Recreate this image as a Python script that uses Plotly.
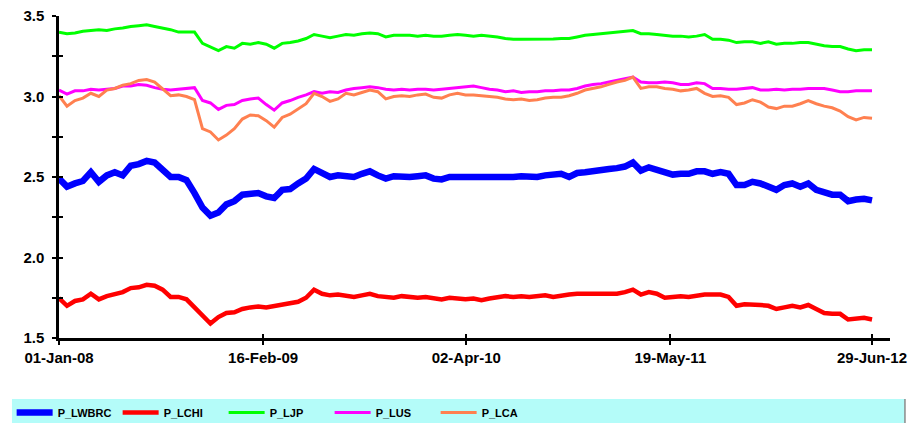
import pandas as pd
import plotly.graph_objects as go

# ---------------- data ----------------
start_date = "2008-01-01"
end_date = "2012-06-29"
n_points = 103

p_lwbrc = [2.49, 2.44, 2.46, 2.475, 2.53, 2.47, 2.51, 2.53, 2.51, 2.57,
           2.58, 2.60, 2.59, 2.55, 2.50, 2.50, 2.48, 2.40, 2.31, 2.26,
           2.28, 2.33, 2.35, 2.39, 2.395, 2.40, 2.38, 2.37, 2.42, 2.425,
           2.46, 2.49, 2.55, 2.52, 2.50, 2.51, 2.505, 2.50, 2.52, 2.535,
           2.51, 2.49, 2.505, 2.50, 2.50, 2.505, 2.51, 2.49, 2.485, 2.50,
           2.50, 2.50, 2.50, 2.495, 2.49, 2.50, 2.495, 2.50, 2.505, 2.50,
           2.50, 2.51, 2.515, 2.52, 2.50, 2.525, 2.53, 2.54, 2.545, 2.55,
           2.555, 2.565, 2.59, 2.54, 2.56, 2.545, 2.52, 2.515, 2.52, 2.52,
           2.535, 2.535, 2.52, 2.53, 2.52, 2.45, 2.45, 2.47, 2.46, 2.44,
           2.42, 2.45, 2.46, 2.44, 2.46, 2.42, 2.40, 2.39, 2.39, 2.35,
           2.36, 2.365, 2.355]

p_lchi = [1.747, 1.70, 1.73, 1.74, 1.775, 1.74, 1.76, 1.775, 1.785, 1.81,
          1.815, 1.83, 1.825, 1.80, 1.755, 1.755, 1.74, 1.69, 1.635, 1.59,
          1.63, 1.655, 1.66, 1.68, 1.69, 1.695, 1.69, 1.70, 1.71, 1.715,
          1.725, 1.75, 1.80, 1.775, 1.765, 1.77, 1.765, 1.755, 1.765, 1.775,
          1.76, 1.755, 1.75, 1.76, 1.755, 1.75, 1.755, 1.745, 1.74, 1.75,
          1.745, 1.74, 1.745, 1.735, 1.745, 1.755, 1.76, 1.755, 1.76, 1.755,
          1.76, 1.765, 1.755, 1.765, 1.77, 1.775, 1.775, 1.78, 1.775, 1.775,
          1.775, 1.785, 1.80, 1.77, 1.785, 1.775, 1.75, 1.755, 1.76, 1.755,
          1.765, 1.77, 1.77, 1.77, 1.755, 1.70, 1.71, 1.71, 1.705, 1.70,
          1.68, 1.69, 1.70, 1.69, 1.705, 1.68, 1.655, 1.65, 1.65, 1.615,
          1.62, 1.625, 1.615]

p_ljp = [3.40, 3.39, 3.395, 3.405, 3.41, 3.415, 3.41, 3.42, 3.425, 3.435,
         3.44, 3.445, 3.435, 3.425, 3.415, 3.40, 3.40, 3.40, 3.33, 3.31,
         3.285, 3.31, 3.30, 3.33, 3.325, 3.335, 3.325, 3.30, 3.33, 3.335,
         3.345, 3.36, 3.385, 3.375, 3.365, 3.375, 3.385, 3.38, 3.39, 3.395,
         3.39, 3.37, 3.38, 3.38, 3.38, 3.375, 3.38, 3.375, 3.375, 3.38,
         3.385, 3.38, 3.375, 3.38, 3.375, 3.37, 3.36, 3.355, 3.355, 3.355,
         3.355, 3.357, 3.357, 3.36, 3.36, 3.37, 3.38, 3.385, 3.39, 3.392,
         3.40, 3.405, 3.41, 3.39, 3.39, 3.385, 3.38, 3.375, 3.375, 3.37,
         3.375, 3.385, 3.355, 3.355, 3.35, 3.335, 3.34, 3.34, 3.33, 3.34,
         3.325, 3.33, 3.33, 3.335, 3.335, 3.325, 3.315, 3.31, 3.31, 3.295,
         3.285, 3.29, 3.29]

p_lus = [3.04, 3.015, 3.035, 3.035, 3.045, 3.04, 3.045, 3.05, 3.065, 3.065,
         3.075, 3.07, 3.055, 3.045, 3.04, 3.045, 3.05, 3.055, 2.975, 2.96,
         2.92, 2.945, 2.95, 2.975, 2.985, 2.99, 2.95, 2.915, 2.96, 2.975,
         2.995, 3.01, 3.03, 3.02, 3.03, 3.025, 3.04, 3.05, 3.055, 3.06,
         3.055, 3.045, 3.04, 3.045, 3.04, 3.045, 3.045, 3.04, 3.045, 3.05,
         3.055, 3.06, 3.065, 3.055, 3.045, 3.04, 3.03, 3.035, 3.025, 3.03,
         3.03, 3.035, 3.035, 3.04, 3.04, 3.05, 3.065, 3.075, 3.08, 3.09,
         3.10, 3.11, 3.12, 3.09, 3.085, 3.085, 3.09, 3.085, 3.075, 3.075,
         3.085, 3.08, 3.05, 3.05, 3.045, 3.045, 3.05, 3.055, 3.04, 3.04,
         3.045, 3.04, 3.045, 3.045, 3.05, 3.05, 3.05, 3.04, 3.03, 3.03,
         3.035, 3.035, 3.035]

p_lca = [3.005, 2.94, 2.975, 2.99, 3.02, 3.00, 3.04, 3.05, 3.07, 3.08,
         3.10, 3.105, 3.09, 3.05, 3.005, 3.01, 3.00, 2.98, 2.80, 2.78,
         2.73, 2.76, 2.80, 2.86, 2.885, 2.88, 2.85, 2.81, 2.87, 2.89,
         2.92, 2.955, 3.02, 3.00, 2.97, 2.985, 3.02, 3.01, 3.025, 3.04,
         3.03, 2.985, 3.00, 3.005, 3.00, 3.01, 3.015, 2.995, 2.99, 3.01,
         3.02, 3.01, 3.01, 3.005, 3.00, 2.995, 2.985, 2.98, 2.985, 2.975,
         2.98, 2.99, 2.995, 2.995, 3.005, 3.02, 3.04, 3.05, 3.06, 3.075,
         3.09, 3.10, 3.12, 3.05, 3.06, 3.06, 3.05, 3.045, 3.035, 3.04,
         3.05, 3.02, 3.00, 3.005, 2.995, 2.95, 2.96, 2.98, 2.965, 2.935,
         2.925, 2.94, 2.94, 2.955, 2.975, 2.955, 2.94, 2.93, 2.91, 2.875,
         2.855, 2.87, 2.865]

series_names = ["P_LWBRC", "P_LCHI", "P_LJP", "P_LUS", "P_LCA"]
x_tick_dates = ["2008-01-01", "2009-02-16", "2010-04-02", "2011-05-19", "2012-06-29"]
x_tick_labels = ["01-Jan-08", "16-Feb-09", "02-Apr-10", "19-May-11", "29-Jun-12"]
y_tick_vals = [1.5, 1.75, 2.0, 2.25, 2.5, 2.75, 3.0, 3.25, 3.5]
y_tick_labels = ["1.5", "", "2.0", "", "2.5", "", "3.0", "", "3.5"]

# ---------------- figure ----------------
dates = pd.date_range(start_date, end_date, periods=n_points)
all_values = [p_lwbrc, p_lchi, p_ljp, p_lus, p_lca]
colors = ["#0000FF", "#FF0000", "#00FF00", "#FF00FF", "#FF8050"]
widths = [6.5, 4.5, 3, 3, 3]

fig = go.Figure()
for name, vals, c, w in zip(series_names, all_values, colors, widths):
    fig.add_trace(go.Scatter(x=dates, y=vals, mode="lines", name=name,
                             line=dict(color=c, width=w)))

# empty helper trace so the overlay axes (inner half of crossing ticks) get drawn
fig.add_trace(go.Scatter(x=[], y=[], xaxis="x2", yaxis="y2", showlegend=False,
                         hoverinfo="skip"))

x_range = ["2008-01-01", "2012-08-04 07:00"]
y_range = [1.5, 3.5]
tick_font = dict(family="Liberation Sans, Arial, sans-serif", size=15,
                 color="black", weight="bold")

fig.update_layout(
    width=910, height=423,
    margin=dict(l=59, r=20, t=16, b=85, autoexpand=False),
    paper_bgcolor="white", plot_bgcolor="white",
    showlegend=True,
    legend=dict(orientation="h", x=-0.057, xanchor="left", y=-0.186, yanchor="top",
                entrywidth=55, entrywidthmode="pixels", itemwidth=36,
                bgcolor="rgba(0,0,0,0)",
                font=dict(family="Liberation Sans Narrow, Arial Narrow, Liberation Sans, sans-serif",
                          size=11, color="black", weight="bold")),
    xaxis=dict(type="date", range=x_range, tickvals=x_tick_dates, ticktext=x_tick_labels,
               ticks="outside", ticklen=4, tickwidth=2, tickcolor="black",
               showline=True, linecolor="black", linewidth=2.5, automargin=False,
               ticklabeloverflow="allow",
               showgrid=False, zeroline=False, tickfont=tick_font),
    yaxis=dict(range=y_range, tickvals=y_tick_vals, ticktext=y_tick_labels,
               ticks="outside", ticklen=4, tickwidth=2, tickcolor="black",
               showline=True, linecolor="black", linewidth=2.5, automargin=False,
               ticklabeloverflow="allow",
               showgrid=False, zeroline=False, tickfont=tick_font,
               ticklabelstandoff=5),
    xaxis2=dict(type="date", range=x_range, tickvals=x_tick_dates, overlaying="x",
                anchor="y", side="bottom", ticks="inside", ticklen=4, tickwidth=2,
                tickcolor="black", showticklabels=False, showline=False,
                showgrid=False, zeroline=False, automargin=False),
    yaxis2=dict(range=y_range, tickvals=y_tick_vals, overlaying="y", anchor="x",
                side="left", ticks="inside", ticklen=4, tickwidth=2,
                tickcolor="black", showticklabels=False, showline=False,
                showgrid=False, zeroline=False, automargin=False),
    shapes=[
        dict(type="rect", xref="paper", yref="paper", x0=-0.0566, x1=1.018,
             y0=-0.1894, y1=-0.30, fillcolor="#b4fcf9", line=dict(width=0),
             layer="below"),
        dict(type="line", xref="paper", yref="paper", x0=1.018, x1=1.018,
             y0=-0.1894, y1=-0.30, line=dict(color="#8a8a8a", width=1.5)),
    ],
)

# remove the default page margin so the 910x423 figure fills the window exactly
fig.write_html("out.html",
               config={"displayModeBar": False},
               post_script="document.body.style.margin='0';"
                           "document.body.style.overflow='hidden';")
